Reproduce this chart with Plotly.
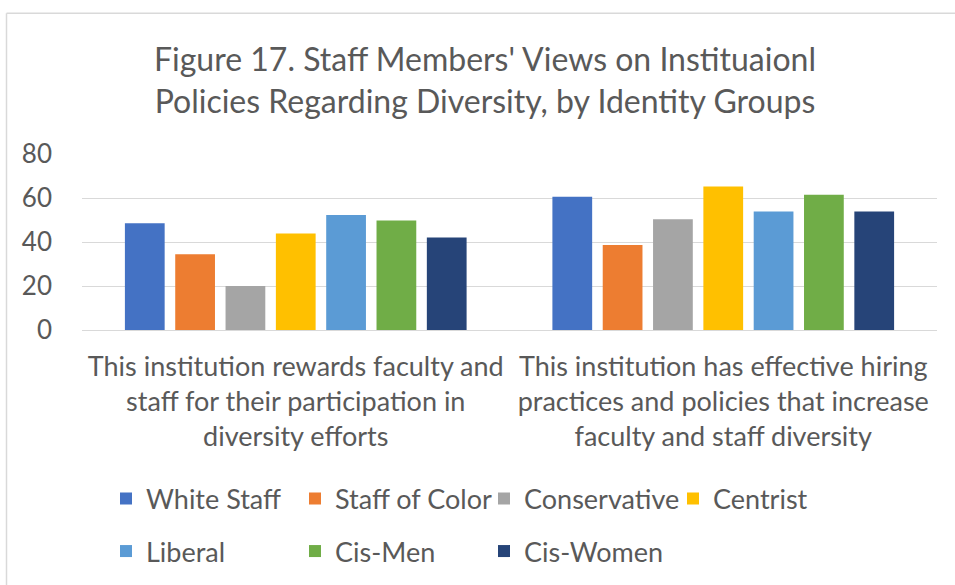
import plotly.graph_objects as go

# ---- data ----
categories = [
    "This institution rewards faculty and staff for their participation in diversity efforts",
    "This institution has effective hiring practices and policies that increase faculty and staff diversity",
]
category_tick_labels = [
    "This institution rewards faculty and<br>staff for their participation in<br>diversity efforts",
    "This institution has effective hiring<br>practices and policies that increase<br>faculty and staff diversity",
]
series_names = ["White Staff", "Staff of Color", "Conservative", "Centrist",
                "Liberal", "Cis-Men", "Cis-Women"]
white_staff = [48.5, 60.6]
staff_of_color = [34.4, 38.6]
conservative = [20.0, 50.3]
centrist = [43.9, 65.2]
liberal = [52.3, 53.9]
cis_men = [49.8, 61.5]
cis_women = [42.1, 53.9]
series_values = [white_staff, staff_of_color, conservative, centrist,
                 liberal, cis_men, cis_women]
y_ticks = [0, 20, 40, 60, 80]

title_text = ("Figure 17. Staff Members' Views on Instituaionl<br>"
              "Policies Regarding Diversity, by Identity Groups")

# ---- style ----
colors = ["#4472C4", "#ED7D31", "#A5A5A5", "#FFC000", "#5B9BD5", "#70AD47", "#264478"]
FONT = "Lato, Carlito, Calibri, sans-serif"
TXT = "#595959"
GRID = "#d9d9d9"

W, H = 955, 585
ML, MR, MT, MB = 82, 18, 154, 254
PW, PH = W - ML - MR, H - MT - MB

fig = go.Figure()
for i, (name, vals) in enumerate(zip(series_names, series_values)):
    fig.add_trace(go.Bar(
        x=categories, y=vals, name=name,
        marker=dict(color=colors[i], line=dict(width=0)),
        legend="legend" if i < 4 else "legend2",
        hoverinfo="skip",
    ))

def px_to_paper_x(px):
    return (px - ML) / PW

def px_to_paper_y(py):
    return (H - MB - py) / PH

legend_common = dict(
    orientation="h", xanchor="left", yanchor="middle",
    font=dict(family=FONT, size=27, color=TXT),
    entrywidth=144, entrywidthmode="pixels",
    bgcolor="rgba(0,0,0,0)", borderwidth=0,
    traceorder="normal", itemclick=False, itemdoubleclick=False,
)

fig.update_layout(
    width=W, height=H,
    margin=dict(l=ML, r=MR, t=MT, b=MB, pad=0),
    paper_bgcolor="white", plot_bgcolor="white",
    font=dict(family=FONT, color=TXT, size=27),
    title=dict(
        text=title_text, xref="container", yref="container",
        x=485 / W, xanchor="center", y=1 - 71 / H, yanchor="middle",
        font=dict(family=FONT, size=32, color=TXT),
    ),
    barmode="group", bargap=0.176, bargroupgap=0.21,
    showlegend=True,
    legend=dict(x=px_to_paper_x(106), y=px_to_paper_y(499), **legend_common),
    legend2=dict(x=px_to_paper_x(106), y=px_to_paper_y(551.5), **legend_common),
    xaxis=dict(
        tickmode="array", tickvals=categories, ticktext=category_tick_labels,
        showgrid=False, showline=False, ticks="", zeroline=False,
        tickfont=dict(family=FONT, size=27, color=TXT),
        ticklabelstandoff=18, fixedrange=True,
    ),
    yaxis=dict(
        range=[0, 80], tickvals=y_ticks, showgrid=True, gridcolor=GRID, gridwidth=1.3,
        zeroline=True, zerolinecolor=GRID, zerolinewidth=1.3,
        showline=False, ticks="",
        tickfont=dict(family=FONT, size=26, color=TXT),
        ticklabelstandoff=29, fixedrange=True,
    ),
    shapes=[
        dict(type="line", xref="paper", yref="paper",
             x0=px_to_paper_x(6.5), x1=px_to_paper_x(6.5),
             y0=px_to_paper_y(12.5), y1=px_to_paper_y(600),
             line=dict(color=GRID, width=1.5)),
        dict(type="line", xref="paper", yref="paper",
             x0=px_to_paper_x(6.5), x1=px_to_paper_x(975),
             y0=px_to_paper_y(12.5), y1=px_to_paper_y(12.5),
             line=dict(color=GRID, width=1.5)),
    ],
)

fig.write_html(
    "out.html",
    config={"displayModeBar": False},
    post_script="document.body.style.margin='0px';",
)
